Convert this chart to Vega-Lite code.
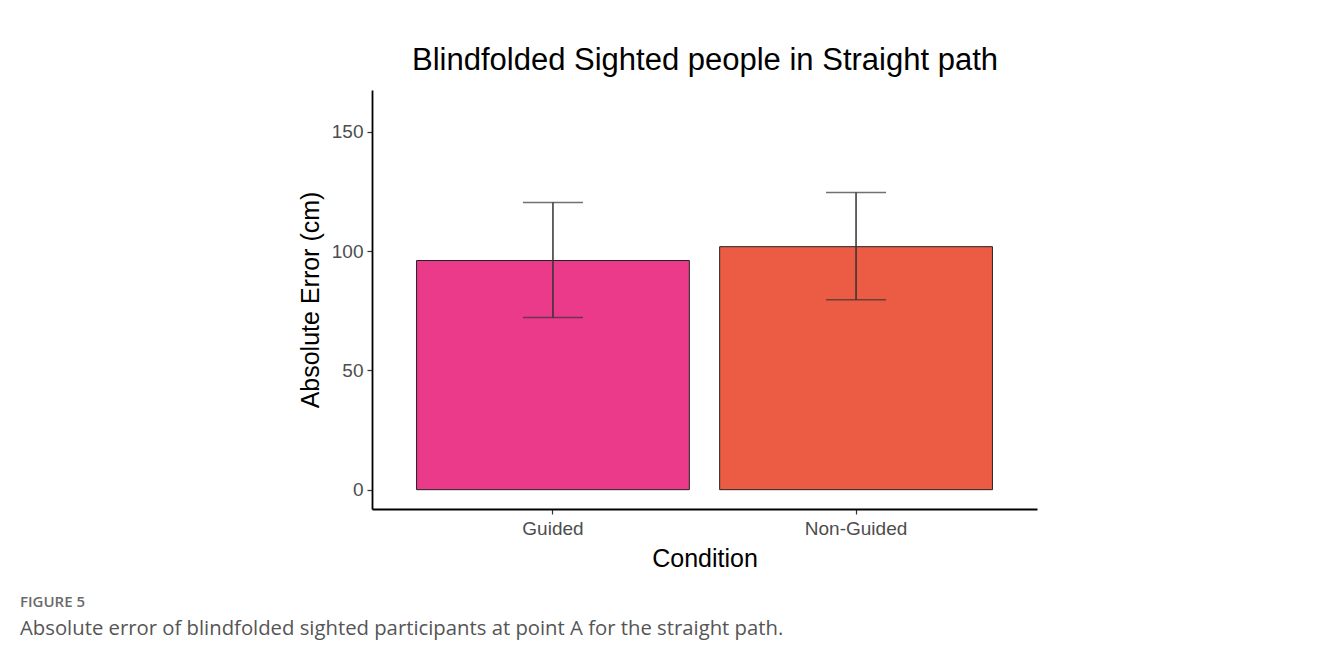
{
  "$schema": "https://vega.github.io/schema/vega-lite/v6.json",
  "width": 665,
  "height": 419,
  "autosize": {"type": "none"},
  "padding": {"left": 372, "top": 90, "right": 281, "bottom": 153},
  "background": "white",
  "config": {
    "view": {"stroke": null},
    "font": "Liberation Sans"
  },
  "title": {
    "text": "FIGURE 5",
    "subtitle": "Absolute error of blindfolded sighted participants at point A for the straight path.",
    "orient": "bottom",
    "anchor": "start",
    "frame": "group",
    "dx": -352,
    "offset": 24,
    "font": "Open Sans",
    "fontSize": 15,
    "fontWeight": 600,
    "color": "#6a6a6a",
    "subtitleFont": "Open Sans",
    "subtitleFontSize": 20.3,
    "subtitleColor": "#555555",
    "subtitlePadding": 9
  },
  "data": {
    "values": [
      {"Condition": "Guided", "mean": 96.1, "lo": 72.2, "hi": 120.4},
      {"Condition": "Non-Guided", "mean": 101.9, "lo": 79.6, "hi": 124.6}
    ]
  },
  "resolve": {"scale": {"x": "independent"}, "axis": {"x": "independent"}},
  "layer": [
    {
      "mark": {"type": "bar", "stroke": "#222222", "strokeWidth": 1},
      "encoding": {
        "x": {
          "field": "Condition", "type": "nominal",
          "scale": {"paddingInner": 0.1, "paddingOuter": 0.147},
          "axis": {
            "title": "Condition", "titleFont": "Liberation Sans", "titleFontSize": 25, "titleFontWeight": "normal", "titleColor": "#000000", "titlePadding": 8,
            "labelAngle": 0, "labelFont": "Liberation Sans", "labelFontSize": 19, "labelColor": "#4d4d4d", "labelPadding": 5,
            "domainColor": "#000000", "domainWidth": 1.8, "tickColor": "#333333", "tickSize": 5, "tickWidth": 1.2
          }
        },
        "y": {
          "field": "mean", "type": "quantitative", "title": "Absolute Error (cm)",
          "scale": {"domain": [-8.1, 167.6], "nice": false, "zero": false},
          "axis": {
            "values": [0, 50, 100, 150], "grid": false,
            "titleFont": "Liberation Sans", "titleFontSize": 25, "titleFontWeight": "normal", "titleColor": "#000000", "titlePadding": 8,
            "labelFont": "Liberation Sans", "labelFontSize": 19, "labelColor": "#4d4d4d", "labelPadding": 4,
            "domainColor": "#000000", "domainWidth": 1.8, "tickColor": "#333333", "tickSize": 5, "tickWidth": 1.2
          }
        },
        "color": {
          "field": "Condition", "type": "nominal", "legend": null,
          "scale": {"domain": ["Guided", "Non-Guided"], "range": ["#ec3a8b", "#ec5b43"]}
        }
      }
    },
    {
      "mark": {"type": "rule", "color": "#333333", "strokeWidth": 1.5},
      "encoding": {
        "x": {
          "field": "Condition", "type": "nominal",
          "scale": {"paddingInner": 0.1, "paddingOuter": 0.147},
          "axis": {
            "orient": "top", "title": "Blindfolded Sighted people in Straight path",
            "titleFont": "Liberation Sans", "titleFontSize": 31, "titleFontWeight": "normal", "titleColor": "#000000", "titlePadding": 14,
            "labels": false, "ticks": false, "domain": false
          }
        },
        "y": {"field": "lo", "type": "quantitative", "title": "Absolute Error (cm)"},
        "y2": {"field": "hi"}
      }
    },
    {
      "mark": {"type": "tick", "color": "#333333", "thickness": 1.5, "size": 60},
      "encoding": {
        "x": {"field": "Condition", "type": "nominal", "scale": {"paddingInner": 0.1, "paddingOuter": 0.147}, "axis": null},
        "y": {"field": "hi", "type": "quantitative", "title": "Absolute Error (cm)"}
      }
    },
    {
      "mark": {"type": "tick", "color": "#333333", "thickness": 1.5, "size": 60},
      "encoding": {
        "x": {"field": "Condition", "type": "nominal", "scale": {"paddingInner": 0.1, "paddingOuter": 0.147}, "axis": null},
        "y": {"field": "lo", "type": "quantitative", "title": "Absolute Error (cm)"}
      }
    }
  ]
}
